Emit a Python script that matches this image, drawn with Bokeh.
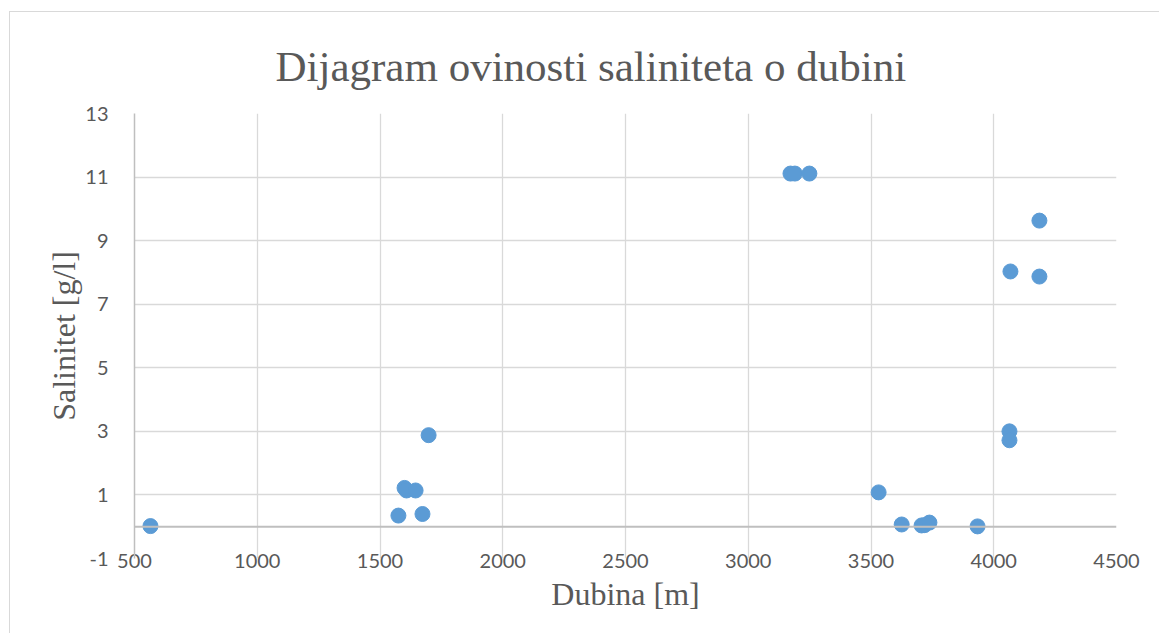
from bokeh.plotting import figure
from bokeh.models import FixedTicker, Span, Title, ColumnDataSource, Range1d, PrintfTickFormatter
from bokeh.embed import file_html
from bokeh.resources import INLINE

# data
depth = [565, 1575, 1600, 1608, 1645, 1673, 1698, 3172, 3190, 3249, 3531, 3625,
         3706, 3718, 3738, 3934, 4064, 4064, 4068, 4186, 4186]
salinity = [0.02, 0.35, 1.22, 1.14, 1.14, 0.40, 2.88, 11.11, 11.11, 11.11, 1.08, 0.07,
            0.04, 0.05, 0.13, 0.01, 3.0, 2.72, 8.03, 7.87, 9.63]
x_ticks = [500, 1000, 1500, 2000, 2500, 3000, 3500, 4000, 4500]
y_ticks = [-1, 1, 3, 5, 7, 9, 11, 13]

TXT = "#595959"
GRID = "#d9d9d9"
AXIS = "#bfbfbf"

p = figure(width=1150, height=622, output_backend="svg", toolbar_location=None,
           x_range=Range1d(500, 4500), y_range=Range1d(-1, 13),
           min_border_left=124, min_border_right=44, min_border_top=101,
           min_border_bottom=76, title=None)
p.styles = {"border-left": "1px solid #d9d9d9", "border-top": "1px solid #d9d9d9",
            "margin-left": "9px", "margin-top": "11px"}
p.outline_line_color = None
p.background_fill_color = "white"
p.border_fill_color = "white"

title = Title(text="Dijagram ovinosti saliniteta o dubini", align="left",
              text_font="Liberation Serif", text_font_size="43px",
              text_color=TXT, text_font_style="normal", offset=141, standoff=48)
p.add_layout(title, "above")

p.xaxis.ticker = FixedTicker(ticks=x_ticks)
p.yaxis.ticker = FixedTicker(ticks=y_ticks)
p.yaxis.formatter = PrintfTickFormatter(format="%d")
p.xgrid.ticker = FixedTicker(ticks=x_ticks)
p.ygrid.ticker = FixedTicker(ticks=y_ticks)
for g in (p.xgrid, p.ygrid):
    g.grid_line_color = GRID
    g.grid_line_width = 1.3

for ax in (p.xaxis, p.yaxis):
    ax.major_tick_line_color = None
    ax.minor_tick_line_color = None
    ax.major_label_text_font = "Lato"
    ax.major_label_text_font_size = "20px"
    ax.major_label_text_color = TXT
    ax.axis_label_text_font = "Liberation Serif"
    ax.axis_label_text_font_size = "32px"
    ax.axis_label_text_font_style = "normal"
    ax.axis_label_text_color = TXT

p.xaxis.axis_line_color = None
p.xaxis.major_label_standoff = -11
p.xaxis.axis_label = "Dubina [m]"
p.xaxis.axis_label_standoff = 5

p.yaxis.axis_line_color = AXIS
p.yaxis.axis_line_width = 1.5
p.yaxis.major_label_standoff = 20
p.yaxis.axis_label = "Salinitet [g/l]"
p.yaxis.axis_label_standoff = 0

p.add_layout(Span(location=0, dimension="width", line_color=AXIS, line_width=2))

src = ColumnDataSource(dict(x=depth, y=salinity))
p.scatter("x", "y", source=src, size=15, fill_color="#5b9bd5", line_color="#5b9bd5")

open("out.html", "w").write(file_html(p, INLINE))
